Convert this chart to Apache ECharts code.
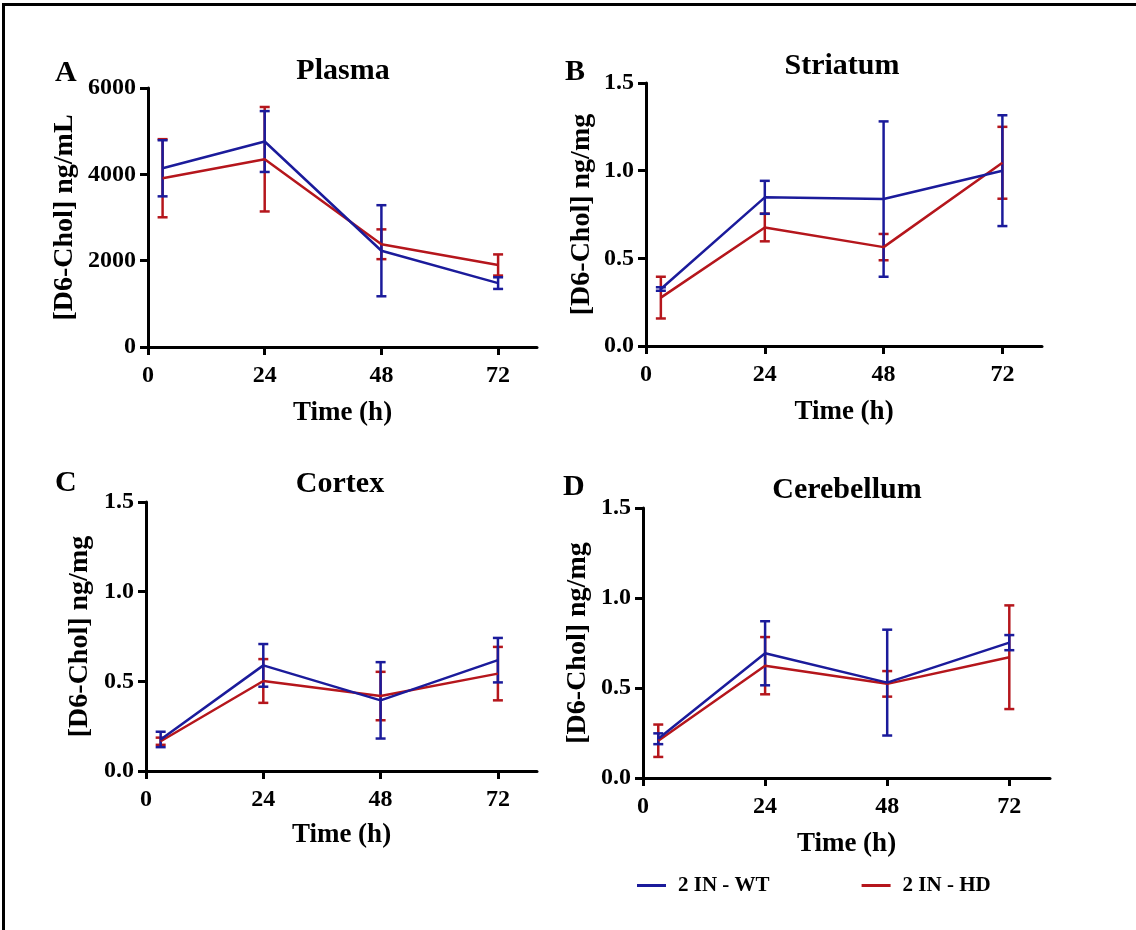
<!DOCTYPE html>
<html>
<head>
<meta charset="utf-8">
<script src="https://cdn.jsdelivr.net/npm/echarts@6/dist/echarts.min.js"></script>
<style>
    html, body { margin: 0; padding: 0; background: #fff; }
    #chart { width: 1136px; height: 930px; position: relative; }
    #frame {
        position: absolute; left: 2px; top: 3px; width: 1134px; height: 927px;
        border-top: 3px solid #000; border-left: 3px solid #000;
        box-sizing: border-box; pointer-events: none;
    }
</style>
</head>
<body>
<div id="chart"></div>
<div id="frame"></div>
<script>
//--------------------------------
// Data
//--------------------------------
const timesH = [3, 24, 48, 72];
const xTicks = [0, 24, 48, 72];

const plasmaWT = [4140, 4760, 2230, 1480];
const plasmaWTsd = [650, 705, 1055, 135];
const plasmaHD = [3910, 4350, 2380, 1900];
const plasmaHDsd = [905, 1210, 345, 245];

const striatumWT = [0.325, 0.848, 0.838, 1.0];
const striatumWTsd = [0.01, 0.094, 0.443, 0.316];
const striatumHD = [0.276, 0.676, 0.564, 1.045];
const striatumHDsd = [0.119, 0.079, 0.075, 0.205];

const cortexWT = [0.176, 0.589, 0.394, 0.618];
const cortexWTsd = [0.043, 0.119, 0.213, 0.124];
const cortexHD = [0.166, 0.502, 0.418, 0.543];
const cortexHDsd = [0.02, 0.122, 0.135, 0.149];

const cerebWT = [0.218, 0.693, 0.53, 0.752];
const cerebWTsd = [0.03, 0.178, 0.294, 0.042];
const cerebHD = [0.207, 0.624, 0.523, 0.671];
const cerebHDsd = [0.09, 0.159, 0.071, 0.288];

const nameWT = '2 IN - WT';
const nameHD = '2 IN - HD';

//--------------------------------
// Style
//--------------------------------
const FONT = "'Liberation Serif', 'Times New Roman', serif";
const BLUE = '#1b1b9b';
const RED = '#b5161c';

// panel layout: grid box, titles, axis name gaps
const panels = [
    { letter: 'A', title: 'Plasma', grid: { left: 148, top: 88, width: 389, height: 259 },
      titleX: 343, titleTop: 56, letterX: 55, letterTop: 58, yGap: 69, xGap: 53,
      yName: '[D6-Chol] ng/mL', yMax: 6000, yStep: 2000, dec: 0,
      wt: plasmaWT, wtSd: plasmaWTsd, hd: plasmaHD, hdSd: plasmaHDsd },
    { letter: 'B', title: 'Striatum', grid: { left: 646, top: 83, width: 396, height: 263 },
      titleX: 842, titleTop: 51, letterX: 565, letterTop: 57, yGap: 50, xGap: 53,
      yName: '[D6-Chol] ng/mg', yMax: 1.5, yStep: 0.5, dec: 1,
      wt: striatumWT, wtSd: striatumWTsd, hd: striatumHD, hdSd: striatumHDsd },
    { letter: 'C', title: 'Cortex', grid: { left: 146, top: 502, width: 391, height: 269 },
      titleX: 340, titleTop: 469, letterX: 55, letterTop: 468, yGap: 52, xGap: 51,
      yName: '[D6-Chol] ng/mg', yMax: 1.5, yStep: 0.5, dec: 1,
      wt: cortexWT, wtSd: cortexWTsd, hd: cortexHD, hdSd: cortexHDsd },
    { letter: 'D', title: 'Cerebellum', grid: { left: 643, top: 508, width: 407, height: 270 },
      titleX: 847, titleTop: 475, letterX: 563, letterTop: 472, yGap: 51, xGap: 53,
      yName: '[D6-Chol] ng/mg', yMax: 1.5, yStep: 0.5, dec: 1,
      wt: cerebWT, wtSd: cerebWTsd, hd: cerebHD, hdSd: cerebHDsd }
];

//--------------------------------
// Local Function
//--------------------------------
const toPairs = (vals) => timesH.map((t, i) => [t, vals[i]]);
const toErr = (vals, sd) => timesH.map((t, i) => [t, vals[i], sd[i]]);

const renderErrorBar = (params, api) => {
    const x = api.value(0);
    const m = api.value(1);
    const e = api.value(2);
    const hi = api.coord([x, m + e]);
    const lo = api.coord([x, m - e]);
    const half = 5;
    const style = { stroke: api.visual('color'), lineWidth: 2.5 };
    return {
        type: 'group',
        children: [
            { type: 'line', shape: { x1: hi[0], y1: hi[1], x2: lo[0], y2: lo[1] }, style: style },
            { type: 'line', shape: { x1: hi[0] - half, y1: hi[1], x2: hi[0] + half, y2: hi[1] }, style: style },
            { type: 'line', shape: { x1: lo[0] - half, y1: lo[1], x2: lo[0] + half, y2: lo[1] }, style: style }
        ]
    };
};

const axisLine = { show: true, lineStyle: { color: '#000', width: 3 } };
const axisTick = { show: true, length: 8, lineStyle: { color: '#000', width: 3 } };

let grids = [], xAxes = [], yAxes = [], titles = [], series = [];

panels.forEach((p, i) => {
    grids.push(Object.assign({ containLabel: false }, p.grid));

    titles.push({
        text: p.title, left: p.titleX, top: p.titleTop, textAlign: 'center', padding: 0,
        textStyle: { fontFamily: FONT, fontWeight: 'bold', fontSize: 30, color: '#000' }
    });
    titles.push({
        text: p.letter, left: p.letterX, top: p.letterTop, padding: 0,
        textStyle: { fontFamily: FONT, fontWeight: 'bold', fontSize: 30, color: '#000' }
    });

    xAxes.push({
        type: 'value', gridIndex: i, min: 0, max: 80, interval: 24,
        name: 'Time (h)', nameLocation: 'middle', nameGap: p.xGap,
        nameTextStyle: { fontFamily: FONT, fontWeight: 'bold', fontSize: 27, color: '#000' },
        axisLine: axisLine,
        axisTick: Object.assign({ customValues: xTicks }, axisTick),
        axisLabel: { customValues: xTicks, margin: 17, fontFamily: FONT, fontWeight: 'bold', fontSize: 24, color: '#000' },
        splitLine: { show: false }
    });

    yAxes.push({
        type: 'value', gridIndex: i, min: 0, max: p.yMax, interval: p.yStep,
        name: p.yName, nameLocation: 'middle', nameGap: p.yGap, nameRotate: 90,
        nameTextStyle: { fontFamily: FONT, fontWeight: 'bold', fontSize: 28, color: '#000' },
        axisLine: axisLine,
        axisTick: axisTick,
        axisLabel: {
            margin: 12, fontFamily: FONT, fontWeight: 'bold', fontSize: 24, color: '#000',
            formatter: (v) => v.toFixed(p.dec)
        },
        splitLine: { show: false }
    });

    // HD first so WT sits on top
    [[nameHD, p.hd, p.hdSd, RED], [nameWT, p.wt, p.wtSd, BLUE]].forEach(([nm, vals, sd, col]) => {
        series.push({
            name: nm + ' err', type: 'custom', xAxisIndex: i, yAxisIndex: i,
            renderItem: renderErrorBar, itemStyle: { color: col },
            encode: { x: 0, y: [1] },
            data: toErr(vals, sd), silent: true
        });
        series.push({
            name: nm, type: 'line', xAxisIndex: i, yAxisIndex: i,
            symbol: 'none', itemStyle: { color: col },
            lineStyle: { color: col, width: 2.5 },
            data: toPairs(vals), silent: true
        });
    });
});

const myChart = echarts.init(document.getElementById('chart'), null, { renderer: 'canvas' });

let options = {
    backgroundColor: '#fff',
    animation: false,
    title: titles,
    legend: {
        data: [nameWT, nameHD],
        left: 632, top: 870,
        icon: 'rect', itemWidth: 29, itemHeight: 3, itemGap: 92,
        textStyle: { fontFamily: FONT, fontWeight: 'bold', fontSize: 21, color: '#000', padding: [0, 0, 0, 7] }
    },
    grid: grids,
    xAxis: xAxes,
    yAxis: yAxes,
    series: series
};
myChart.setOption(options);
</script>
</body>
</html>
